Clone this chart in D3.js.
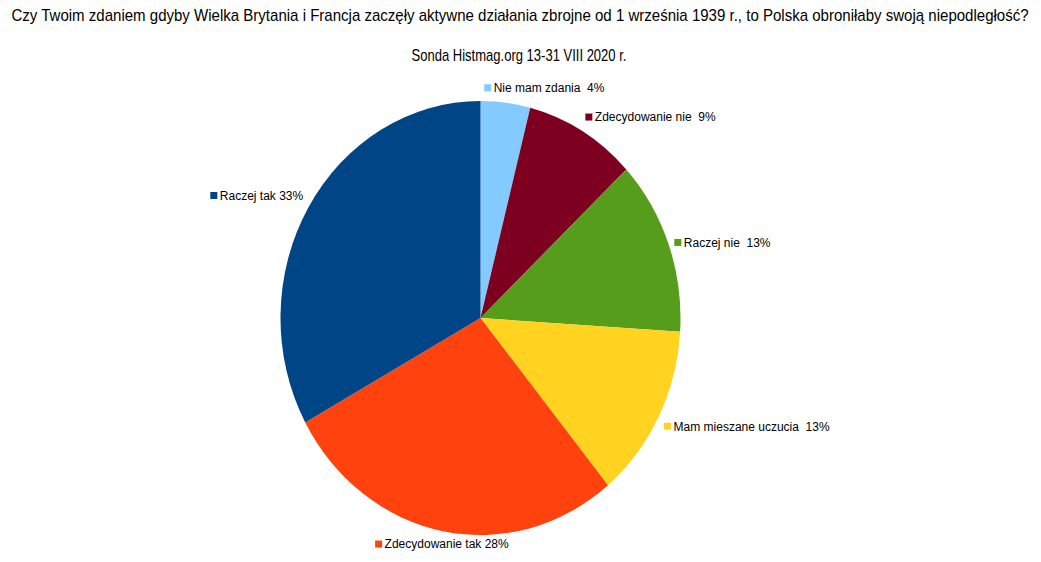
<!DOCTYPE html>
<html>
<head>
<meta charset="utf-8">
<script src="https://cdn.jsdelivr.net/npm/d3@7"></script>
<style>
  html, body { margin: 0; padding: 0; background: #fff; }
  svg { display: block; font-family: "Liberation Sans", Arial, sans-serif; }
  text { white-space: pre; }
</style>
</head>
<body>
<svg id="chart" width="1041" height="562"></svg>
<script>
// ---- data ----
const title = "Czy Twoim zdaniem gdyby Wielka Brytania i Francja zaczęły aktywne działania zbrojne od 1 września 1939 r., to Polska obroniłaby swoją niepodległość?";
const subtitle = "Sonda Histmag.org 13-31 VIII 2020 r.";
const categories = ["Nie mam zdania", "Zdecydowanie nie", "Raczej nie", "Mam mieszane uczucia", "Zdecydowanie tak", "Raczej tak"];
const values = [4, 9, 13, 13, 28, 33];
const labelTexts = ["Nie mam zdania  4%", "Zdecydowanie nie  9%", "Raczej nie  13%", "Mam mieszane uczucia  13%", "Zdecydowanie tak 28%", "Raczej tak 33%"];
const colors = ["#83CAFF", "#7E0021", "#579D1C", "#FFD320", "#FF420E", "#004586"];

// ---- layout ----
const W = 1041, H = 562;
const cx = 480.5, cy = 318, rx = 200, ry = 217;
const labelGap = 6;
const labelNudgeX = [38, 0, 0, 0, 0, 0];

const svg = d3.select("#chart");

// headline text, horizontally fitted to a target width with a scale transform
function fittedText(str, centerX, baseY, size, targetW) {
  const t = svg.append("text")
    .attr("x", 0).attr("y", 0)
    .attr("text-anchor", "middle")
    .attr("font-size", size)
    .attr("fill", "#000")
    .text(str);
  const w = t.node().getComputedTextLength();
  const k = Math.min(1, targetW / w);
  t.attr("transform", `translate(${centerX},${baseY}) scale(${k},1)`);
  return t;
}
fittedText(title, 520, 21, 16, 1018);
fittedText(subtitle, 519, 61, 16, 215);

const data = categories.map((c, i) => ({ cat: c, value: values[i], label: labelTexts[i], color: colors[i] }));
const pie = d3.pie().sort(null).value(d => d.value).startAngle(0).endAngle(2 * Math.PI);
const arcs = pie(data);
const arc = d3.arc().innerRadius(0).outerRadius(rx);

svg.append("g")
  .attr("transform", `translate(${cx},${cy}) scale(1,${ry / rx})`)
  .selectAll("path")
  .data(arcs)
  .join("path")
  .attr("d", arc)
  .attr("fill", d => d.data.color);

// labels (LibreOffice-style outside placement)
const lg = svg.append("g");
arcs.forEach((a, i) => {
  const mid = (a.startAngle + a.endAngle) / 2;
  const s = Math.sin(mid), c = Math.cos(mid);
  const px = cx + (rx + labelGap) * s;
  const py = cy - (ry + labelGap) * c;
  let deg = 90 - mid * 180 / Math.PI;
  deg = ((deg % 360) + 360) % 360;
  let h, v;
  if (deg <= 22.5 || deg >= 337.5) { h = 1; v = 0; }
  else if (deg < 67.5) { h = 1; v = -1; }
  else if (deg < 112.5) { h = 0; v = -1; }
  else if (deg <= 157.5) { h = -1; v = -1; }
  else if (deg <= 202.5) { h = -1; v = 0; }
  else if (deg < 247.5) { h = -1; v = 1; }
  else if (deg < 292.5) { h = 0; v = 1; }
  else { h = 1; v = 1; }

  const g = lg.append("g");
  const t = g.append("text")
    .attr("font-size", 12)
    .attr("fill", "#000")
    .text(a.data.label);
  const tw = t.node().getComputedTextLength();
  const sq = 7, gap = 2.5;
  const bw = sq + gap + tw, bh = 16;
  let left = h === 1 ? px : (h === 0 ? px - bw / 2 : px - bw);
  let top = v === 1 ? py : (v === 0 ? py - bh / 2 + 1 : py - bh);
  left += labelNudgeX[i];
  const midY = top + 7;
  g.insert("rect", "text")
    .attr("x", left).attr("y", midY - sq / 2)
    .attr("width", sq).attr("height", sq)
    .attr("fill", a.data.color);
  t.attr("x", left + sq + gap).attr("y", midY + 4.3);
});
</script>
</body>
</html>
